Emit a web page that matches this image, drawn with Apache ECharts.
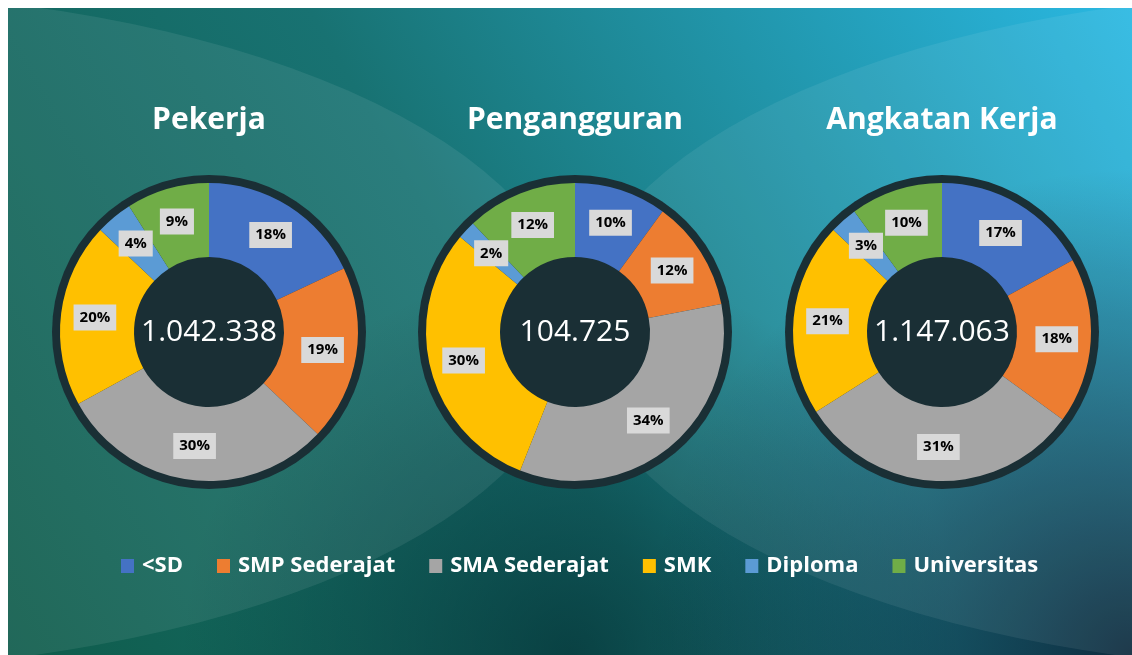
<!DOCTYPE html>
<html>
<head>
<meta charset="utf-8">
<script src="https://cdn.jsdelivr.net/npm/echarts@6/dist/echarts.min.js"></script>
<style>
  html, body { margin: 0; padding: 0; background: #ffffff; }
  #chart { width: 1132px; height: 655px; }
</style>
</head>
<body>
<div id="chart"></div>
<script>
const CATEGORIES = ['<SD', 'SMP Sederajat', 'SMA Sederajat', 'SMK', 'Diploma', 'Universitas'];
const TITLES = ['Pekerja', 'Pengangguran', 'Angkatan Kerja'];
const TOTALS = ['1.042.338', '104.725', '1.147.063'];

// persentase per jenjang pendidikan
const PEKERJA = [18, 19, 30, 20, 4, 9];
const PENGANGGURAN = [10, 12, 34, 30, 2, 12];
const ANGKATAN_KERJA = [17, 18, 31, 21, 3, 10];

const COLORS = ['#4472c4', '#ed7d31', '#a5a5a5', '#ffc000', '#5b9bd5', '#70ad47'];
const RING_DARK = '#1a2f35';
const FONT = '"Open Sans", "Noto Sans", sans-serif';

const CENTERS = [[209, 332], [575, 332], [942, 332]];

function buildDonut(index, values) {
  const center = CENTERS[index];
  return [
    {
      name: TITLES[index] + ' total',
      type: 'pie',
      center,
      radius: [0, 157],
      silent: true,
      z: 2,
      emphasis: { disabled: true },
      tooltip: { show: false },
      labelLine: { show: false },
      label: {
        show: true,
        position: 'center',
        formatter: TOTALS[index],
        color: '#ffffff',
        fontSize: 30,
        fontFamily: FONT
      },
      data: [{ name: TITLES[index], value: 1, itemStyle: { color: RING_DARK } }]
    },
    {
      name: TITLES[index],
      type: 'pie',
      center,
      radius: [75, 149],
      startAngle: 90,
      clockwise: true,
      avoidLabelOverlap: false,
      z: 3,
      emphasis: { scale: false },
      labelLine: { show: false },
      label: {
        show: true,
        position: 'inside',
        formatter: '{c}%',
        color: '#000000',
        fontSize: 15,
        fontWeight: 'bold',
        fontFamily: FONT,
        backgroundColor: '#d9d9d9',
        padding: [6, 6, 5, 6]
      },
      data: CATEGORIES.map((name, i) => ({
        name,
        value: values[i],
        itemStyle: { color: COLORS[i] }
      }))
    }
  ];
}

const chart = echarts.init(document.getElementById('chart'), null, { renderer: 'canvas' });

const option = {
  animation: false,
  backgroundColor: '#ffffff',
  color: COLORS,
  graphic: [
    {
      type: 'rect',
      z: -10,
      silent: true,
      shape: { x: 8, y: 8, width: 1124, height: 647 },
      style: {
        fill: {
          type: 'linear', x: 0, y: 1, x2: 1, y2: 0,
          colorStops: [
            { offset: 0, color: '#0f5c4b' },
            { offset: 0.45, color: '#187272' },
            { offset: 1, color: '#2ab8e2' }
          ]
        }
      }
    },
    {
      type: 'rect',
      z: -9,
      silent: true,
      shape: { x: 8, y: 8, width: 1124, height: 647 },
      style: {
        fill: {
          type: 'radial', x: 0.5, y: 1, r: 0.6,
          colorStops: [
            { offset: 0, color: 'rgba(0, 35, 40, 0.6)' },
            { offset: 1, color: 'rgba(0, 35, 40, 0)' }
          ]
        }
      }
    },
    {
      type: 'rect',
      z: -9,
      silent: true,
      shape: { x: 8, y: 8, width: 1124, height: 647 },
      style: {
        fill: {
          type: 'radial', x: 1, y: 1, r: 0.75,
          colorStops: [
            { offset: 0, color: 'rgba(12, 32, 50, 0.9)' },
            { offset: 1, color: 'rgba(12, 32, 50, 0)' }
          ]
        }
      }
    },
    {
      type: 'circle',
      z: -8,
      silent: true,
      x: -200,
      y: 331,
      scaleX: 775 / 340,
      shape: { cx: 0, cy: 0, r: 340 },
      style: { fill: 'rgba(255, 255, 255, 0.08)' }
    },
    {
      type: 'circle',
      z: -8,
      silent: true,
      x: 1350,
      y: 331,
      scaleX: 775 / 340,
      shape: { cx: 0, cy: 0, r: 340 },
      style: { fill: 'rgba(255, 255, 255, 0.07)' }
    },
    { type: 'rect', z: -7, silent: true, shape: { x: 0, y: 0, width: 1132, height: 8 }, style: { fill: '#ffffff' } },
    { type: 'rect', z: -7, silent: true, shape: { x: 0, y: 0, width: 8, height: 655 }, style: { fill: '#ffffff' } },
    ...TITLES.map((text, i) => ({
      type: 'text',
      z: 5,
      silent: true,
      x: CENTERS[i][0],
      y: 120,
      style: {
        text,
        fill: '#ffffff',
        font: 'bold 30px ' + FONT,
        textAlign: 'center',
        textVerticalAlign: 'middle'
      }
    }))
  ],
  legend: {
    data: CATEGORIES,
    left: 116,
    top: 550,
    itemWidth: 13,
    itemHeight: 14,
    itemGap: 34,
    icon: 'rect',
    selectedMode: false,
    textStyle: {
      color: '#ffffff',
      fontSize: 22,
      fontWeight: 'bold',
      fontFamily: FONT,
      padding: [0, 0, 0, 3]
    }
  },
  series: [
    ...buildDonut(0, PEKERJA),
    ...buildDonut(1, PENGANGGURAN),
    ...buildDonut(2, ANGKATAN_KERJA)
  ]
};

chart.setOption(option);

window.addEventListener('resize', () => {
  chart.resize();
});
</script>
</body>
</html>
